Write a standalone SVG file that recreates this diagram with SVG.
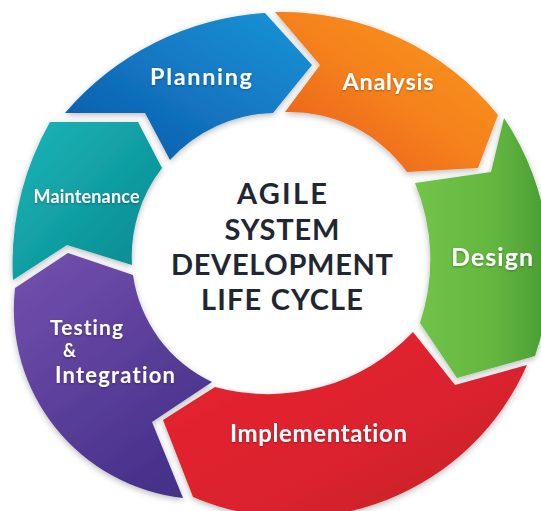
<svg xmlns="http://www.w3.org/2000/svg" width="541" height="511" viewBox="0 0 541 511">
  <defs>
    <linearGradient id="gBlue" x1="0" y1="1" x2="1" y2="0">
      <stop offset="0" stop-color="#0b58a6"/>
      <stop offset="0.5" stop-color="#1376c2"/>
      <stop offset="1" stop-color="#1a95d5"/>
    </linearGradient>
    <linearGradient id="gOrange" x1="0" y1="1" x2="1" y2="0">
      <stop offset="0" stop-color="#e9561a"/>
      <stop offset="0.5" stop-color="#f5811e"/>
      <stop offset="1" stop-color="#f99a20"/>
    </linearGradient>
    <linearGradient id="gGreen" x1="0" y1="0" x2="1" y2="0">
      <stop offset="0" stop-color="#72c449"/>
      <stop offset="0.6" stop-color="#62b63f"/>
      <stop offset="1" stop-color="#489b33"/>
    </linearGradient>
    <linearGradient id="gRed" x1="0" y1="0" x2="1" y2="1">
      <stop offset="0" stop-color="#e8262f"/>
      <stop offset="0.6" stop-color="#da222d"/>
      <stop offset="1" stop-color="#c01e2a"/>
    </linearGradient>
    <linearGradient id="gPurple" x1="0" y1="0" x2="0.6" y2="1">
      <stop offset="0" stop-color="#7451ae"/>
      <stop offset="1" stop-color="#47318a"/>
    </linearGradient>
    <linearGradient id="gTeal" x1="0" y1="0" x2="1" y2="1">
      <stop offset="0" stop-color="#18b6b8"/>
      <stop offset="1" stop-color="#0a878e"/>
    </linearGradient>
    <filter id="shadow" x="-20%" y="-20%" width="140%" height="140%">
      <feDropShadow dx="0" dy="2" stdDeviation="3" flood-color="#000" flood-opacity="0.28"/>
    </filter>
    <filter id="tshadow" x="-10%" y="-30%" width="120%" height="160%">
      <feDropShadow dx="0" dy="1" stdDeviation="0.8" flood-color="#000" flood-opacity="0.3"/>
    </filter>
    <style>
      .seg { filter: url(#shadow); }
      .lbl { font-family: Lato, "Open Sans", "Liberation Sans", sans-serif; font-weight: 700; fill: #ffffff; filter: url(#tshadow); font-variant-ligatures: none; font-feature-settings: "liga" 0, "dlig" 0; }
      .mid { text-anchor: middle; }
      .title { font-family: Lato, "Open Sans", "Liberation Sans", sans-serif; font-weight: 700; fill: #1f2733; font-size: 29px; text-anchor: middle; font-variant-ligatures: none; }
    </style>
  </defs>
  <rect width="541" height="511" fill="#ffffff"/>

  <g id="connectors"></g>

  <g id="planning">
    <path class="seg" fill="url(#gBlue)" d="M 65,113 L 145,113 L 170,160 A 145 145 0 0 1 273,113 L 312,65 L 265,13 A 287 287 0 0 0 65,113 Z"/>
    <text class="lbl mid" x="201" y="85" font-size="23.5" textLength="102" lengthAdjust="spacing">Planning</text>
  </g>

  <g id="analysis">
    <path class="seg" fill="url(#gOrange)" d="M 275,12 L 320,65 L 285,112 A 145 145 0 0 1 407,172 L 478,168 L 498,115 A 278 278 0 0 0 275,12 Z"/>
    <text class="lbl mid" x="388" y="90" font-size="23.5" textLength="91" lengthAdjust="spacing">Analysis</text>
  </g>

  <g id="design">
    <path class="seg" fill="url(#gGreen)" d="M 504,118 L 491,172 L 415,183 A 200 200 0 0 1 420,323 L 457,378 L 535,356 A 270 270 0 0 0 504,118 Z"/>
    <text class="lbl mid" x="492" y="266" font-size="25" textLength="82" lengthAdjust="spacing">Design</text>
  </g>

  <g id="implementation">
    <path class="seg" fill="url(#gRed)" d="M 527,365 L 455,385 L 413,332 A 200 200 0 0 1 215,387 L 163,420 L 193,497 A 255 255 0 0 0 527,365 Z"/>
    <text class="lbl mid" x="318.5" y="442" font-size="24" textLength="177" lengthAdjust="spacing">Implementation</text>
  </g>

  <g id="testing">
    <path class="seg" fill="url(#gPurple)" d="M 183,498 L 152,422 L 212,382 A 140 140 0 0 1 133,275 L 68,253 L 15,288 A 190 190 0 0 0 183,498 Z"/>
    <text class="lbl" font-size="21" x="50" y="335" textLength="73" lengthAdjust="spacing">Testing</text>
    <text class="lbl" font-size="18" x="63" y="357">&amp;</text>
    <text class="lbl" font-size="22" x="55" y="383" textLength="120" lengthAdjust="spacing">Integration</text>
  </g>

  <g id="maintenance">
    <path class="seg" fill="url(#gTeal)" d="M 13,280 L 67,245 L 132,265 A 145 145 0 0 1 162,168 L 138,122 L 50,122 A 290 290 0 0 0 13,280 Z"/>
    <text class="lbl mid" x="86.5" y="203" font-size="18" textLength="106" lengthAdjust="spacing">Maintenance</text>
  </g>

  <g id="title">
    <text class="title" x="282" y="204" textLength="90" lengthAdjust="spacing">AGILE</text>
    <text class="title" x="282" y="240" textLength="115" lengthAdjust="spacing">SYSTEM</text>
    <text class="title" x="282" y="275" textLength="222" lengthAdjust="spacing">DEVELOPMENT</text>
    <text class="title" x="282" y="310" textLength="162" lengthAdjust="spacing">LIFE CYCLE</text>
  </g>
</svg>
